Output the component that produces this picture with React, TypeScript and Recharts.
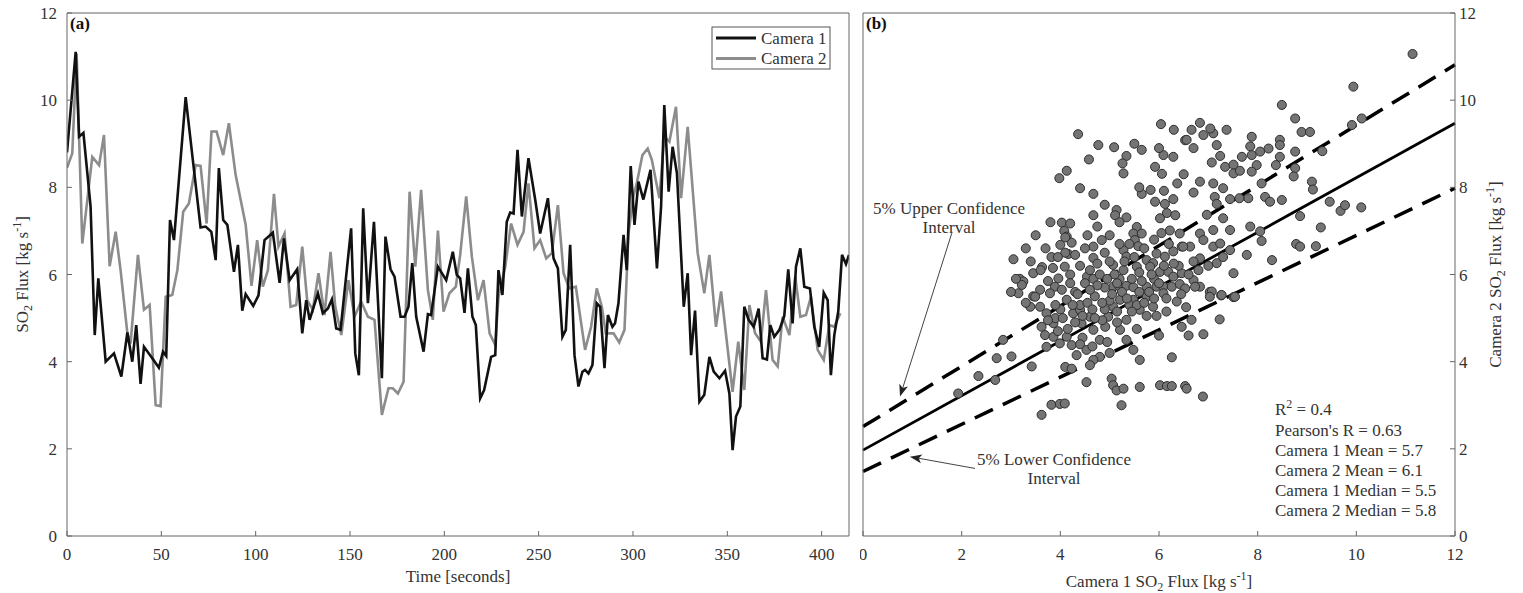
import React from "react"
import { LineChart, Line, XAxis, YAxis, ScatterChart, Scatter, ZAxis, ReferenceLine } from "recharts"

const FONT = "'Liberation Serif', 'Times New Roman', serif"
const TXT = "#333"
const AX = "#666"

// time [s], flux [kg/s]
const camera1Series: [number, number][] = [
  [0, 8.8], [4.6, 11.11], [6.4, 9.16], [8.7, 9.25], [12.5, 7.56], [14.7, 4.61], [16.6, 5.91], [20.5, 4.0],
  [24.9, 4.19], [28.8, 3.66], [32.0, 4.67], [34.6, 4.0], [36.7, 4.84], [39.0, 3.49], [40.8, 4.34], [45.2, 4.08],
  [48.7, 3.86], [50.9, 4.23], [52.6, 4.13], [54.6, 7.25], [56.7, 6.79], [62.9, 10.07], [67.3, 8.4], [70.8, 7.08],
  [73.5, 7.1], [76.5, 6.98], [78.8, 6.33], [80.5, 8.44], [82.8, 7.25], [85.0, 7.14], [88.5, 6.06], [90.6, 6.68],
  [92.9, 5.17], [94.7, 5.55], [98.7, 5.28], [101.5, 5.52], [104.7, 6.79], [109.1, 6.96], [112.7, 5.81], [115, 6.83],
  [118, 5.87], [122, 6.12], [124.7, 4.65], [126.8, 5.41], [128.6, 4.96], [133, 5.57], [135.6, 5.11], [138.3, 5.22],
  [140.4, 5.43], [142.7, 4.76], [145, 4.73], [150.6, 7.06], [152.8, 4.19], [154.7, 3.69], [157, 7.52], [159.5, 5.34],
  [162.7, 7.21], [166.9, 3.62], [168.8, 6.87], [171.5, 6.12], [173.6, 5.95], [176.8, 5.03], [178.9, 5.03], [181, 5.26],
  [183, 6.26], [185.1, 5.03], [189, 4.23], [191.3, 5.09], [193, 5.07], [196.6, 6.18], [201, 5.87], [204.5, 6.52],
  [206.6, 5.99], [208.4, 5.91], [210.7, 5.12], [212.5, 6.14], [214.9, 5.03], [216.7, 4.84], [219, 3.16], [221.1, 3.35],
  [224.8, 4.11], [227, 4.15], [228.7, 6.1], [230.8, 5.53], [233.1, 7.21], [234.9, 7.42], [236.7, 7.4], [238.8, 8.86],
  [241.1, 7.33], [244.6, 8.67], [248.2, 7.71], [250.8, 6.94], [254.9, 7.75], [257.9, 6.37], [260.2, 6.14], [262.6, 4.57],
  [264.4, 4.73], [266.7, 6.68], [269, 4.15], [271.1, 3.43], [273.2, 3.77], [274.6, 3.81], [276.4, 3.73], [278.5, 3.92],
  [280.8, 5.34], [282.6, 5.26], [284.9, 3.85], [286.7, 5.07], [289.1, 4.8], [290.5, 4.88], [292.3, 5.34], [295, 6.91],
  [296.7, 6.1], [298.8, 8.49], [300.8, 7.14], [302.9, 8.13], [305.5, 7.72], [309.3, 8.4], [312.7, 6.14], [314.9, 7.56],
  [316.6, 9.89], [318.9, 7.9], [321, 8.93], [323.3, 8.32], [326.9, 5.26], [329, 6.03], [330.8, 4.15], [332.9, 5.17],
  [335.2, 3.08], [337.8, 3.24], [340.5, 4.11], [342.8, 3.77], [345.8, 3.62], [348.8, 3.79], [351.1, 3.27], [352.8, 1.97],
  [354.6, 2.74], [356.9, 2.97], [359, 5.26], [361.3, 4.96], [364, 4.8], [366.6, 5.22], [368.7, 4.08], [371, 4.05],
  [372.8, 4.84], [374.9, 4.57], [377.6, 4.73], [380.2, 5.05], [382.3, 6.12], [384.6, 4.88], [386.4, 6.18], [388.7, 6.6],
  [390.8, 5.72], [393.8, 5.68], [396.1, 4.8], [398.7, 4.34], [401.1, 5.58], [403.2, 5.41], [404.9, 3.69], [406.7, 4.61],
  [408.8, 5.15], [410.8, 6.45], [412.9, 6.24], [414.5, 6.45],
]

const camera2Series: [number, number][] = [
  [0, 8.45], [2.8, 8.78], [5.1, 11.07], [8.1, 6.71], [13.4, 8.7], [17, 8.51], [19.6, 9.2], [22.6, 6.19],
  [25.8, 6.98], [28.4, 6.1], [32, 4.65], [33.7, 4.42], [37.6, 6.45], [40.8, 5.19], [43.8, 5.3], [47, 3.0],
  [49.6, 2.98], [52.3, 5.49], [55.8, 5.53], [58.5, 6.1], [61.6, 7.44], [64.6, 7.63], [68.2, 8.51], [70.8, 8.49],
  [74, 7.17], [76.6, 9.28], [79.3, 9.28], [82.8, 8.74], [85.8, 9.47], [89.4, 8.28], [94.7, 7.14], [97.8, 5.74],
  [100.8, 6.79], [103.8, 5.72], [106.5, 6.1], [109.7, 7.85], [112.1, 6.64], [115.3, 6.94], [118.5, 5.26], [121.5, 5.3],
  [124.7, 6.64], [127.3, 5.41], [130.3, 5.19], [133.3, 6.03], [136.5, 5.07], [139.7, 6.52], [142.2, 5.26], [145.4, 4.61],
  [149.2, 5.87], [152.4, 5.03], [155.9, 5.38], [159.5, 5.03], [163, 4.96], [166.9, 2.78], [170.4, 3.39], [172.7, 3.39],
  [175.4, 3.27], [178.4, 3.54], [181.6, 7.9], [184.6, 6.18], [187.7, 7.94], [191.3, 5.64], [193.9, 4.96], [196.6, 7.01],
  [199.6, 5.15], [202.7, 5.57], [206.1, 5.72], [208.4, 6.45], [211.6, 7.79], [214.6, 6.41], [217.8, 5.41], [220.8, 5.87],
  [224, 4.65], [227, 4.38], [228.7, 5.48], [232.3, 6.18], [235.4, 7.17], [238.8, 6.68], [242, 6.98], [244.6, 8.09],
  [247.8, 6.6], [250.8, 6.79], [254, 6.37], [257, 6.49], [260.2, 7.59], [263.2, 6.03], [266.2, 5.68], [269.7, 5.72],
  [274.6, 4.27], [277.8, 4.8], [280.8, 5.68], [283.5, 5.26], [285.6, 4.65], [289.7, 4.65], [292.7, 4.44], [295.5, 4.73],
  [297.6, 6.94], [300.2, 7.79], [302, 8.09], [305, 8.74], [307.8, 8.89], [310, 8.63], [314, 7.75], [316.6, 9.16],
  [319.3, 9.05], [322.8, 9.85], [325.5, 7.75], [329, 9.39], [334.3, 6.49], [337.8, 5.57], [340.5, 6.45], [344, 4.8],
  [346.7, 5.61], [352.8, 3.31], [355.8, 4.46], [359, 3.35], [361.7, 5.3], [364.7, 4.65], [367.8, 4.46], [370.5, 5.64],
  [374, 4.04], [376.7, 3.89], [379.3, 5.03], [382.9, 4.61], [386, 5.95], [388.7, 5.03], [391.7, 5.07], [394.3, 5.49],
  [397.9, 4.27], [401.1, 4.04], [404.1, 4.84], [406.7, 4.8], [409.9, 5.11],
]

// camera 1 flux vs camera 2 flux
const fluxPairs: [number, number][] = [
  [6.04, 9.45], [6.3, 9.32], [6.53, 9.08], [4.36, 9.22], [4.77, 8.97], [5.09, 8.92], [5.65, 8.86], [5.34, 8.72],
  [4.58, 8.64], [6.09, 8.74], [6.29, 8.7], [5.26, 8.55], [5.92, 8.47], [6.06, 8.31], [5.28, 8.32], [3.98, 8.21],
  [4.13, 8.38], [6.37, 8.09], [4.4, 7.98], [4.67, 7.85], [5.65, 7.85], [5.83, 7.94], [6.1, 7.92], [6.29, 7.73],
  [5.92, 7.67], [6.12, 7.62], [5.14, 7.48], [5.11, 7.36], [5.34, 7.31], [4.67, 7.36], [6.16, 7.41], [6.33, 7.36],
  [6.02, 7.29], [4.03, 7.19], [4.2, 7.17], [4.08, 7.0], [4.13, 6.87], [4.23, 6.73], [4.0, 6.68], [4.16, 6.47],
  [5.55, 7.09], [5.48, 6.94], [5.65, 6.94], [5.51, 6.79], [5.58, 6.65], [4.84, 6.79], [4.67, 6.64], [6.22, 7.01],
  [6.42, 6.94], [6.46, 6.64], [6.29, 6.53], [5.28, 6.56], [5.34, 6.41], [4.67, 6.38], [5.95, 6.48], [6.12, 6.41],
  [5.75, 6.33], [5.88, 6.26], [3.05, 6.35], [3.18, 5.9], [3.45, 6.03], [3.63, 6.17], [3.82, 6.4], [4.09, 6.18],
  [3.96, 5.91], [4.54, 5.95], [4.67, 5.9], [5.07, 6.22], [5.28, 6.1], [5.55, 6.18], [5.82, 6.18], [6.02, 6.06],
  [6.19, 6.06], [6.29, 5.95], [6.46, 6.03], [3.25, 5.84], [3.15, 5.57], [3.45, 5.5], [3.59, 5.65], [3.89, 5.72],
  [4.03, 5.65], [5.07, 5.72], [5.2, 5.72], [5.34, 5.74], [5.48, 5.71], [5.75, 5.72], [5.95, 5.72], [6.09, 5.72],
  [6.26, 5.72], [6.42, 5.78], [3.22, 5.76], [3.49, 5.49], [3.59, 5.26], [3.39, 5.26], [3.79, 5.57], [4.13, 5.42],
  [3.72, 5.11], [3.62, 4.8], [3.86, 4.88], [3.69, 4.61], [3.86, 4.57], [3.99, 4.42], [4.13, 4.57], [4.26, 5.11],
  [4.4, 5.19], [4.43, 4.88], [4.6, 5.03], [4.67, 4.73], [4.8, 4.5], [4.91, 4.8], [4.97, 5.03], [5.07, 5.26],
  [5.21, 5.42], [5.48, 5.42], [5.61, 5.19], [5.75, 5.49], [5.88, 5.26], [6.09, 5.57], [6.36, 5.38], [5.34, 4.96],
  [5.21, 4.73], [5.34, 4.5], [5.61, 4.04], [5.48, 4.27], [4.8, 4.11], [4.67, 4.04], [4.6, 3.92], [4.33, 4.15],
  [4.1, 3.88], [4.23, 3.84], [4.53, 4.27], [4.23, 4.38], [4.53, 3.53], [5.04, 3.61], [5.07, 3.46], [5.14, 3.34],
  [5.28, 3.38], [5.61, 3.42], [6.02, 3.46], [6.16, 3.44], [6.26, 3.44], [6.53, 3.44], [5.24, 3.0], [3.82, 3.01],
  [3.99, 3.03], [4.09, 3.04], [3.62, 2.78], [3.42, 3.89], [3.01, 4.12], [2.84, 4.5], [2.71, 4.08], [2.68, 3.58],
  [2.34, 3.67], [1.93, 3.27], [3.72, 4.34], [6.26, 4.1], [6.0, 4.6], [6.6, 4.6],
  [11.14, 11.06], [9.94, 10.31], [8.49, 9.89], [10.11, 9.58], [9.91, 9.43], [8.76, 9.58], [8.89, 9.27], [9.06, 9.27],
  [8.45, 9.09], [8.45, 8.97], [7.88, 9.16], [7.85, 8.94], [7.68, 8.7], [7.37, 9.32], [7.1, 9.24], [7.04, 9.35],
  [6.83, 9.48], [6.66, 9.32], [6.56, 9.09], [7.17, 8.97], [7.24, 8.72], [7.07, 8.57], [7.34, 8.47], [7.51, 8.52],
  [7.51, 8.32], [7.64, 8.38], [7.88, 8.74], [8.05, 8.82], [7.98, 8.51], [7.88, 8.36], [8.22, 8.89], [8.37, 8.51],
  [8.45, 8.7], [8.76, 8.82], [8.76, 8.44], [8.73, 8.25], [9.31, 8.83], [9.1, 8.13], [9.12, 7.95], [9.46, 7.67],
  [9.68, 7.46], [9.77, 7.59], [10.1, 7.54], [8.86, 7.34], [8.78, 6.7], [8.86, 6.64], [9.18, 6.65], [9.28, 7.08],
  [8.29, 6.33], [7.51, 6.03], [7.78, 6.45], [8.08, 6.77], [8.05, 6.99], [7.85, 7.1], [8.15, 7.78], [8.25, 7.67],
  [8.49, 7.71], [7.81, 7.75], [7.63, 7.75], [7.44, 7.73], [8.08, 8.09], [7.3, 7.98], [7.1, 8.09], [6.83, 8.13],
  [6.7, 7.88], [7.13, 7.78], [7.17, 7.62], [6.97, 7.37], [7.3, 7.29], [7.1, 7.02], [6.83, 6.94], [6.9, 6.79],
  [7.1, 6.64], [7.24, 6.71], [7.44, 7.02], [7.44, 6.56], [7.3, 6.4], [7.17, 6.26], [6.83, 6.37], [6.63, 6.64],
  [6.49, 6.64], [6.7, 5.87], [6.83, 5.72], [7.03, 5.6], [7.26, 5.52], [7.51, 5.48], [6.53, 5.68], [6.73, 5.72],
  [7.07, 5.61], [7.27, 5.53], [7.54, 5.49], [7.03, 5.49], [6.66, 4.96], [7.23, 4.97], [6.46, 4.8], [6.9, 4.63],
  [6.56, 3.38], [6.89, 3.2],
  [4.3, 5.6], [4.5, 5.8], [4.7, 5.5], [4.9, 5.7], [5.0, 5.4], [5.2, 5.9], [4.4, 5.3], [4.6, 6.1], [4.8, 6.0],
  [5.1, 6.0], [4.2, 6.0], [4.0, 5.2], [3.9, 5.0], [4.3, 4.9], [4.9, 5.2], [5.4, 5.3], [5.6, 5.6], [5.9, 5.9],
  [6.1, 6.2], [6.4, 6.2], [6.6, 6.0], [4.1, 6.5], [4.5, 6.6], [4.9, 6.5], [5.2, 6.7], [5.5, 6.4], [3.6, 6.1],
  [3.3, 6.6], [3.5, 6.9], [3.8, 7.2], [4.9, 7.6], [5.6, 8.0], [6.5, 8.3], [6.7, 8.9], [6.9, 9.2], [5.5, 9.0], [6.0, 8.9],
  [3.9, 5.3], [4.05, 5.0], [4.15, 4.75], [4.25, 5.3], [4.35, 5.55], [4.45, 5.05], [4.55, 5.35], [4.65, 5.2],
  [4.75, 5.75], [4.85, 5.35], [4.95, 5.9], [5.05, 5.55], [5.15, 5.15], [5.25, 5.6], [5.35, 5.45], [5.45, 5.9],
  [5.55, 5.3], [5.65, 5.85], [5.8, 5.6], [5.9, 5.45], [4.2, 5.8], [4.4, 6.2], [4.6, 5.65], [4.75, 6.25],
  [4.85, 4.95], [5.0, 6.3], [5.15, 5.8], [5.3, 6.3], [5.45, 5.15], [5.6, 6.05], [5.7, 5.35], [5.85, 6.0],
  [6.0, 5.8], [6.15, 5.45], [6.3, 6.25], [6.45, 5.55], [3.75, 5.85], [3.85, 6.15], [3.95, 6.4], [4.3, 6.45],
  [4.55, 6.9], [4.75, 7.1], [5.0, 6.9], [5.2, 7.2], [5.4, 6.7], [5.7, 6.6], [5.9, 6.8], [6.05, 6.95],
  [6.2, 6.7], [4.45, 4.55], [4.65, 4.35], [4.95, 4.45], [5.15, 4.9], [5.0, 4.2], [4.4, 4.4], [3.75, 4.95],
  [3.95, 4.7], [4.7, 5.0], [5.55, 4.75], [5.75, 5.05], [5.95, 5.05], [6.15, 5.15], [6.55, 5.25], [6.7, 6.3],
  [6.8, 6.1], [7.0, 6.2], [4.1, 6.85], [3.7, 6.6], [3.4, 6.3], [3.3, 5.35], [3.0, 5.6], [3.1, 5.9],
]

const timeTicks = [0, 50, 100, 150, 200, 250, 300, 350, 400]
const fluxTicks = [0, 2, 4, 6, 8, 10, 12]

// regression and 5% confidence bounds (end points in data units)
const fitLine = [{ x: 0, y: 1.97 }, { x: 12, y: 9.47 }]
const upperBound = [{ x: 0, y: 2.51 }, { x: 12, y: 10.81 }]
const lowerBound = [{ x: 0, y: 1.48 }, { x: 12, y: 7.98 }]
const upperArrow = [{ x: 1.8, y: 6.95 }, { x: 0.75, y: 3.2 }]
const lowerArrow = [{ x: 2.27, y: 1.55 }, { x: 0.95, y: 1.82 }]

const statLines = ["Pearson's R = 0.63", "Camera 1 Mean = 5.7", "Camera 2 Mean = 6.1", "Camera 1 Median = 5.5", "Camera 2 Median = 5.8"]

const cam1Data = camera1Series.map(([t, v]) => ({ t, v }))
const cam2Data = camera2Series.map(([t, v]) => ({ t, v }))
const scatterData = fluxPairs.map(([x, y]) => ({ x, y }))

const tickStyle = { fill: TXT, fontSize: 17, fontFamily: FONT }

const Arrow = (props: any) => {
  const { x1, y1, x2, y2 } = props
  const a = Math.atan2(y2 - y1, x2 - x1)
  const c = Math.cos(a), s = Math.sin(a)
  const L = 12, W = 4.5, N = 3
  const bx = x2 - L * c, by = y2 - L * s
  const pts = [
    [x2, y2],
    [bx - W * s, by + W * c],
    [x2 - (L - N) * c, y2 - (L - N) * s],
    [bx + W * s, by - W * c],
  ].map(p => p.join(",")).join(" ")
  return (
    <g>
      <line x1={x1} y1={y1} x2={x2 - (L - N) * c} y2={y2 - (L - N) * s} stroke="#444" strokeWidth={1} />
      <polygon points={pts} fill="#222" />
    </g>
  )
}

const Overlay = () => (
  <svg width={1523} height={593} style={{ position: "absolute", left: 0, top: 0, pointerEvents: "none" }} fontFamily={FONT} fill={TXT} fontSize={17}>
    <text x={70} y={29} fontWeight="bold" fill="#111">(a)</text>
    <text x={866} y={29} fontWeight="bold" fill="#111">(b)</text>

    {/* legend */}
    <rect x={712} y={27} width={118} height={42} fill="#fff" stroke="#555" strokeWidth={1} />
    <line x1={716} y1={38} x2={756} y2={38} stroke="#111" strokeWidth={3} />
    <line x1={716} y1={58.5} x2={756} y2={58.5} stroke="#8c8c8c" strokeWidth={3} />
    <text x={761} y={43.5}>Camera 1</text>
    <text x={761} y={64}>Camera 2</text>

    {/* axis titles */}
    <text x={458} y={582} textAnchor="middle">Time [seconds]</text>
    <text transform="translate(28,274.5) rotate(-90)" textAnchor="middle">
      SO<tspan dy={4} fontSize={12}>2</tspan><tspan dy={-4}> Flux [kg s</tspan><tspan dy={-7} fontSize={12}>-1</tspan><tspan dy={7}>]</tspan>
    </text>
    <text x={1159} y={587} textAnchor="middle">
      Camera 1 SO<tspan dy={4} fontSize={12}>2</tspan><tspan dy={-4}> Flux [kg s</tspan><tspan dy={-7} fontSize={12}>-1</tspan><tspan dy={7}>]</tspan>
    </text>
    <text transform="translate(1501,274.5) rotate(-90)" textAnchor="middle">
      Camera 2 SO<tspan dy={4} fontSize={12}>2</tspan><tspan dy={-4}> Flux [kg s</tspan><tspan dy={-7} fontSize={12}>-1</tspan><tspan dy={7}>]</tspan>
    </text>

    {/* annotations */}
    <text x={949} y={214} textAnchor="middle">5% Upper Confidence</text>
    <text x={949} y={233} textAnchor="middle">Interval</text>
    <text x={1054} y={465} textAnchor="middle">5% Lower Confidence</text>
    <text x={1054} y={484} textAnchor="middle">Interval</text>

    <text x={1275} y={415}>R<tspan dy={-7} fontSize={12}>2</tspan><tspan dy={7}> = 0.4</tspan></text>
    {statLines.map((s, i) => (
      <text key={s} x={1275} y={436 + i * 20.1}>{s}</text>
    ))}
  </svg>
)

export default function App() {
  return (
    <div style={{ position: "absolute", left: 0, top: 0, width: 1523, height: 593, background: "#fff", fontFamily: FONT }}>
      <style>{`.recharts-text, .recharts-cartesian-axis-tick-value { font-family: 'Liberation Serif', 'Times New Roman', serif !important; }`}</style>
      <div style={{ position: "absolute", left: 0, top: 0 }}>
        <LineChart width={860} height={593} margin={{ top: 12, right: 10, bottom: 0, left: 0 }} style={{ fontFamily: FONT }}>
          <XAxis xAxisId="b" dataKey="t" type="number" domain={[0, 414.5]} ticks={timeTicks} interval={0}
            allowDataOverflow height={57} tickSize={-5} tickMargin={17} stroke={AX} tick={tickStyle} />
          <XAxis xAxisId="t" orientation="top" dataKey="t" type="number" domain={[0, 414.5]} ticks={timeTicks} interval={0}
            allowDataOverflow height={1} tickSize={-5} tick={false} stroke={AX} />
          <YAxis yAxisId="l" type="number" domain={[0, 12]} ticks={fluxTicks} interval={0}
            width={67} tickSize={-5} tickMargin={15} stroke={AX} tick={tickStyle} />
          <YAxis yAxisId="r" orientation="right" type="number" domain={[0, 12]} ticks={fluxTicks} interval={0}
            width={1} tickSize={-5} tick={false} stroke={AX} />
          <Line xAxisId="b" yAxisId="l" data={cam2Data} dataKey="v" type="linear" stroke="#8c8c8c" strokeWidth={2.6}
            dot={false} isAnimationActive={false} strokeLinejoin="miter" />
          <Line xAxisId="b" yAxisId="l" data={cam1Data} dataKey="v" type="linear" stroke="#111" strokeWidth={2.6}
            dot={false} isAnimationActive={false} strokeLinejoin="miter" />
        </LineChart>
      </div>

      <div style={{ position: "absolute", left: 860, top: 0 }}>
        <ScatterChart width={663} height={593} margin={{ top: 12, right: 0, bottom: 0, left: 2 }} style={{ fontFamily: FONT }}>
          <XAxis xAxisId="b" dataKey="x" type="number" domain={[0, 12]} ticks={fluxTicks} interval={0}
            height={57} tickSize={-5} tickMargin={17} stroke={AX} tick={tickStyle} />
          <XAxis xAxisId="t" orientation="top" dataKey="x" type="number" domain={[0, 12]} ticks={fluxTicks} interval={0}
            height={1} tickSize={-5} tick={false} stroke={AX} />
          <YAxis yAxisId="l" dataKey="y" type="number" domain={[0, 12]} ticks={fluxTicks} interval={0}
            width={1} tickSize={-5} tick={false} stroke={AX} />
          <YAxis yAxisId="r" orientation="right" dataKey="y" type="number" domain={[0, 12]} ticks={fluxTicks} interval={0}
            width={68} tickSize={-5} tickMargin={9} stroke={AX} tick={{ ...tickStyle, textAnchor: "start" }} />
          <ZAxis range={[80, 80]} />
          <Scatter xAxisId="b" yAxisId="r" data={scatterData} fill="#747474" stroke="#2e2e2e" strokeWidth={1}
            isAnimationActive={false} />
          <ReferenceLine xAxisId="b" yAxisId="r" segment={fitLine} stroke="#000" strokeWidth={2.8} />
          <ReferenceLine xAxisId="b" yAxisId="r" segment={upperBound} stroke="#000" strokeWidth={3.5} strokeDasharray="20 11" />
          <ReferenceLine xAxisId="b" yAxisId="r" segment={lowerBound} stroke="#000" strokeWidth={3.5} strokeDasharray="20 11" />
          <ReferenceLine xAxisId="b" yAxisId="r" segment={upperArrow} shape={Arrow} />
          <ReferenceLine xAxisId="b" yAxisId="r" segment={lowerArrow} shape={Arrow} />
        </ScatterChart>
      </div>

      <Overlay />
    </div>
  )
}
